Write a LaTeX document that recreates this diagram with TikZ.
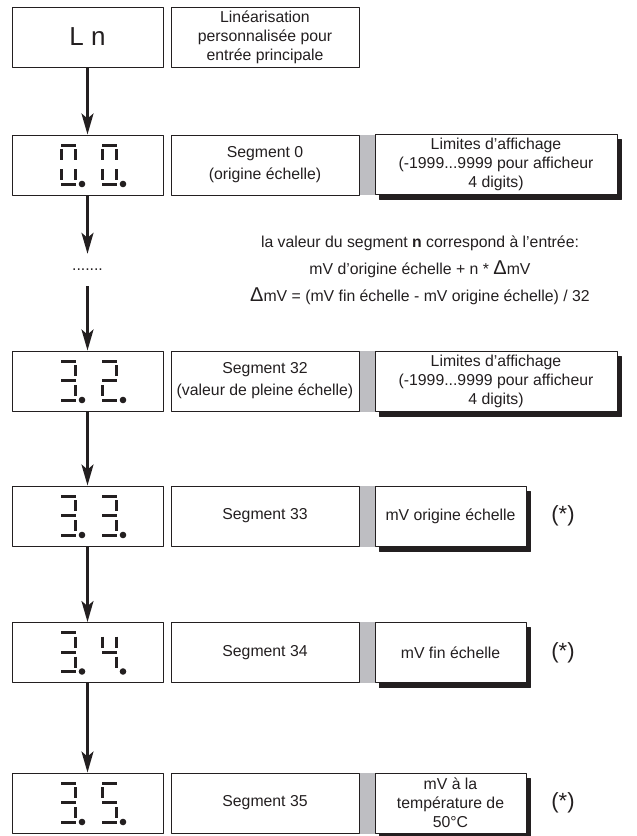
\documentclass[tikz,border=0pt]{standalone}
\usepackage{fontspec}
\setmainfont{Liberation Sans}
\usetikzlibrary{arrows.meta,shadows,backgrounds}

\definecolor{ink}{RGB}{35,31,32}
\definecolor{barg}{RGB}{190,190,194}

% segments of a seven segment digit (left x, top y)
\newcommand{\dsga}[2]{\draw[seg] (#1,#2) -- ++(15,0);}
\newcommand{\dsgb}[2]{\draw[seg] (#1+14.5,#2+4) -- ++(0,11);}
\newcommand{\dsgc}[2]{\draw[seg] (#1+14.5,#2+24) -- ++(0,11);}
\newcommand{\dsgd}[2]{\draw[seg] (#1,#2+39) -- ++(15,0);}
\newcommand{\dsge}[2]{\draw[seg] (#1+0.5,#2+24) -- ++(0,11);}
\newcommand{\dsgf}[2]{\draw[seg] (#1+0.5,#2+4) -- ++(0,11);}
\newcommand{\dsgg}[2]{\draw[seg] (#1,#2+19.5) -- ++(15,0);}
\newcommand{\segdigit}[3]{\foreach \s in {#3}{\csname dsg\s\endcsname{#1}{#2}}
  \fill[ink] (#1+21,#2+39) circle (3.3pt);}
\newcommand{\bigD}{{\fontsize{20}{20}\selectfont Δ}}

\begin{document}
\begin{tikzpicture}[x=1pt, y=-1pt, line join=round,
  box/.style={draw=ink, line width=1pt, fill=white, minimum height=60pt, inner sep=2pt,
    align=center, text=ink, font=\fontsize{15.8}{19}\selectfont},
  disp/.style={box, minimum width=151pt},
  desc/.style={box, minimum width=188pt},
  lim/.style={box, copy shadow={shadow xshift=4pt, shadow yshift=-5pt, fill=ink, draw=ink}},
  arr/.style={-{Stealth[length=21pt,width=12pt,inset=5pt]}, line width=2.5pt, draw=ink},
  seg/.style={line width=3pt, draw=ink},
  astk/.style={font=\fontsize{22}{22}\selectfont, text=ink}]
\useasboundingbox (0,0) rectangle (637,836);

% left column
\node[disp, font=\fontsize{26}{26}\selectfont] (ln) at (87.5,37) {L n};
\node[disp] (s0) at (87.5,165) {};
\node[minimum height=32pt, inner sep=0pt, text=ink, font=\fontsize{15.8}{19}\selectfont] (dots) at (87.5,270) {.......};
\node[disp] (s32) at (87.5,381) {};
\node[disp] (s33) at (87.5,516) {};
\node[disp] (s34) at (87.5,652.5) {};
\node[disp] (s35) at (87.5,803) {};

% digits
\segdigit{61}{145}{a,b,c,d,e,f} \segdigit{102}{145}{a,b,c,d,e,f}
\segdigit{61}{361}{a,b,c,d,g} \segdigit{102}{361}{a,b,g,e,d}
\segdigit{61}{496}{a,b,c,d,g} \segdigit{102}{496}{a,b,c,d,g}
\segdigit{61}{632.5}{a,b,c,d,g} \segdigit{102}{632.5}{f,b,g,c}
\segdigit{61}{783}{a,b,c,d,g} \segdigit{102}{783}{a,f,g,c,d}

% descriptions
\node[desc] (dln) at (265,37) {Linéarisation\\personnalisée pour\\entrée principale};
\node[desc, font=\fontsize{15.8}{22}\selectfont] (d0) at (265,165) {Segment 0\\(origine échelle)};
\node[desc, font=\fontsize{15.8}{22}\selectfont] (d32) at (265,381) {Segment 32\\(valeur de pleine échelle)};
\node[desc] (d33) at (265,516) {Segment 33};
\node[desc] (d34) at (265,652.5) {Segment 34};
\node[desc] (d35) at (265,803) {Segment 35};

% values
\node[lim, minimum width=242pt] (l0) at (496,164) {Limites d’affichage\\(-1999...9999 pour afficheur\\4 digits)};
\node[lim, minimum width=242pt] (l32) at (496,381) {Limites d’affichage\\(-1999...9999 pour afficheur\\4 digits)};
\node[lim, minimum width=151pt] (m33) at (450.5,516) {mV origine échelle};
\node[lim, minimum width=151pt] (m34) at (450.5,652.5) {mV fin échelle};
\node[lim, minimum width=151pt] (m35) at (450.5,803) {mV à la\\température de\\50°C};

\node[astk] (a33) at (563,516) {(*)};
\node[astk] (a34) at (563,652.5) {(*)};
\node[astk] (a35) at (563,803) {(*)};

\node[align=center, text=ink, font=\fontsize{15.8}{27}\selectfont] (form) at (420,270)
  {la valeur du segment \textbf{n} correspond à l’entrée:\\
   mV d’origine échelle + n * \bigD mV\\
   \bigD mV = (mV fin échelle - mV origine échelle) / 32};

% grey bars
\begin{scope}[on background layer]
\fill[barg] (d0.north east) rectangle (l0.south west);
\fill[barg] (d32.north east) rectangle (l32.south west);
\fill[barg] (d33.north east) rectangle (m33.south west);
\fill[barg] (d34.north east) rectangle (m34.south west);
\fill[barg] (d35.north east) rectangle (m35.south west);
\end{scope}

% arrows
\draw[arr] (ln) -- (s0);
\draw[arr] (s0) -- (dots);
\draw[arr] (dots) -- (s32);
\draw[arr] (s32) -- (s33);
\draw[arr] (s33) -- (s34);
\draw[arr] (s34) -- (s35);
\end{tikzpicture}
\end{document}
